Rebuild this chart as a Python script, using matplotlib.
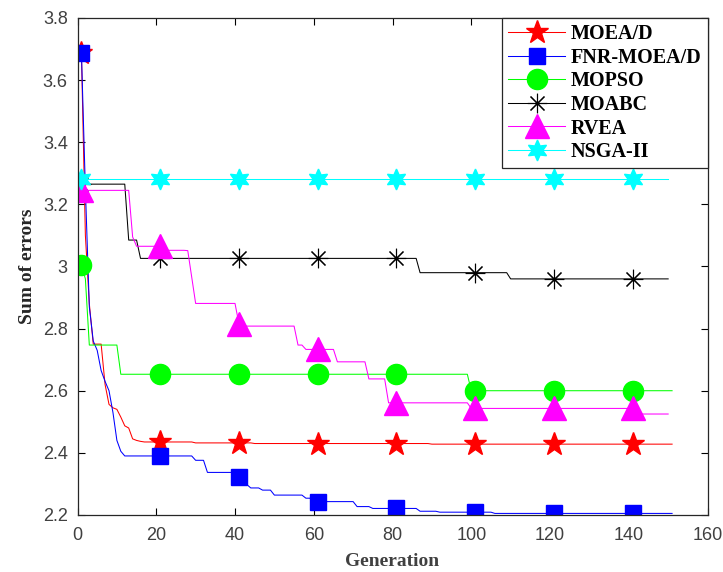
import numpy as np
import matplotlib.pyplot as plt

# best sum of errors per generation, stored as (generation where it changes, new value)
moead_gen = [1, 2, 3, 4, 7, 8, 9, 10, 11, 12, 13, 14, 15, 16, 17, 30, 45, 90]
moead_val = [3.686, 3.10, 2.88, 2.75, 2.62, 2.556, 2.545, 2.54, 2.515, 2.487, 2.48,
             2.445, 2.44, 2.437, 2.435, 2.432, 2.43, 2.428]

fnr_gen = [1, 2, 3, 4, 5, 6, 7, 8, 9, 10, 11, 12, 30, 33, 41, 42, 44, 47, 50, 58, 60,
           71, 75, 87, 92, 106]
fnr_val = [3.686, 3.25, 2.87, 2.76, 2.73, 2.665, 2.63, 2.60, 2.53, 2.44, 2.405, 2.39,
           2.376, 2.337, 2.323, 2.298, 2.287, 2.28, 2.264, 2.254, 2.243, 2.227, 2.221,
           2.212, 2.209, 2.205]

mopso_gen = [1, 2, 3, 11, 100]
mopso_val = [3.005, 2.96, 2.747, 2.653, 2.60]

moabc_gen = [1, 13, 16, 87, 110]
moabc_val = [3.265, 3.085, 3.026, 2.98, 2.96]

rvea_gen = [1, 14, 15, 22, 28, 29, 30, 41, 42, 56, 58, 66, 74, 79, 100, 143]
rvea_val = [3.245, 3.095, 3.065, 3.052, 3.051, 2.966, 2.881, 2.815, 2.808, 2.747,
            2.733, 2.693, 2.638, 2.561, 2.543, 2.525]

nsga_gen = [1]
nsga_val = [3.282]

names = ['MOEA/D', 'FNR-MOEA/D', 'MOPSO', 'MOABC', 'RVEA', 'NSGA-II']
last_gen = [151, 151, 151, 150, 150, 150]


def hold(change_gen, change_val, n):
    # value stays until the next recorded change
    out = np.empty(n)
    for g, v in zip(change_gen, change_val):
        out[g - 1:] = v
    return out


series = [(moead_gen, moead_val), (fnr_gen, fnr_val), (mopso_gen, mopso_val),
          (moabc_gen, moabc_val), (rvea_gen, rvea_val), (nsga_gen, nsga_val)]

styles = [
    dict(color=(1, 0, 0), marker='*', ms=17),
    dict(color=(0, 0, 1), marker='s', ms=11),
    dict(color=(0, 1, 0), marker='o', ms=14.5),
    dict(color=(0, 0, 0), marker=(8, 2, 0), ms=14, mew=0.8),
    dict(color=(1, 0, 1), marker='^', ms=17),
    dict(color=(0, 1, 1), marker=(6, 1, 0), ms=15),
]

fig = plt.figure(figsize=(7.23, 5.72), dpi=100)
ax = fig.add_axes([0.1072, 0.0997, 0.8714, 0.8689])

for (g, v), n, name, st in zip(series, last_gen, names, styles):
    x = np.arange(1, n + 1)
    y = hold(g, v, n)
    ax.plot(x, y, lw=0.75, markevery=20, label=name, **st)

ax.set_xlim(0, 160)
ax.set_ylim(2.2, 3.8)
ax.set_xticks(np.arange(0, 161, 20))
ax.set_yticks(np.arange(2.2, 3.81, 0.2))
ax.set_yticklabels(['2.2', '2.4', '2.6', '2.8', '3', '3.2', '3.4', '3.6', '3.8'])
ax.tick_params(direction='in', top=True, right=True, length=5, width=0.8,
               labelsize=13, labelcolor='#404040')
ax.tick_params(axis='x', pad=9)
ax.tick_params(axis='y', pad=7)
for lab in ax.get_xticklabels() + ax.get_yticklabels():
    lab.set_family('Liberation Sans')
for s in ax.spines.values():
    s.set_linewidth(0.9)
    s.set_color('#262626')

ax.set_xlabel('Generation', fontsize=14, fontweight='bold', family='Liberation Serif',
              color='#404040', labelpad=6)
ax.set_ylabel('Sum of errors', fontsize=14, fontweight='bold', family='Liberation Serif',
              color='#262626', labelpad=5)

leg = ax.legend(loc='upper right', borderaxespad=0, fancybox=False, framealpha=1,
                edgecolor='#262626', handlelength=2.8, handletextpad=0.3,
                labelspacing=0.18, borderpad=0.3,
                prop={'family': 'Liberation Serif', 'weight': 'bold', 'size': 14.5})
leg.get_frame().set_linewidth(0.9)

fig.savefig('out.png', dpi=100)
